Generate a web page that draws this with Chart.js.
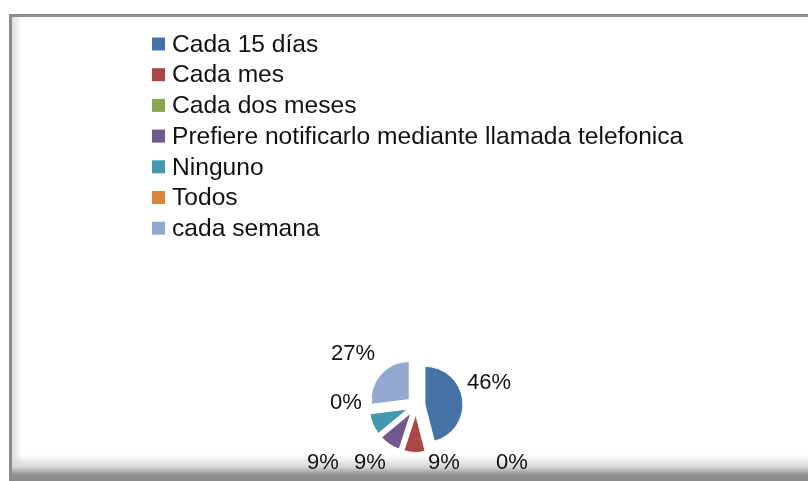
<!doctype html>
<html>
<head>
	<title>Pie Chart</title>
	<script src="https://cdn.jsdelivr.net/npm/chart.js@4.4.1/dist/chart.umd.min.js"></script>
	<style>
		html, body {
			margin: 0;
			padding: 0;
			background: #fff;
		}
		#frame {
			position: absolute;
			left: 9px;
			top: 14px;
			width: 799px;
			height: 467px;
			border-top: 3px solid #8c8c8c;
			border-left: 3px solid #8c8c8c;
			box-sizing: border-box;
			background:
				linear-gradient(to bottom, rgba(255,255,255,0) 0px, rgba(255,255,255,0) 438px, #d6d6d6 450px, #8e8e8e 458px, #8a8a8a 464px),
				linear-gradient(to right, #dcdcdc 0px, #ffffff 10px);
		}
		#container {
			position: absolute;
			left: 0;
			top: 0;
			width: 808px;
			height: 481px;
		}
	</style>
</head>

<body>
	<div id="frame"></div>
	<div id="container">
		<canvas id="canvas" width="808" height="481"></canvas>
	</div>
	<script>
		// data
		var labels = ['Cada 15 días', 'Cada mes', 'Cada dos meses', 'Prefiere notificarlo mediante llamada telefonica', 'Ninguno', 'Todos', 'cada semana'];
		var percents = [46, 9, 0, 9, 9, 0, 27];
		var colors = ['#4572A7', '#AA4643', '#89A54E', '#71588F', '#4198AF', '#DB843D', '#93A9CF'];

		// where each percentage label sits, relative to the pie centre (Excel "best fit")
		var labelNudge = [[73, -23], [28, 57], [96, 57], [-46, 57], [-93, 57], [-70, -3], [-63, -52]];
		var EXPLODE = 9;

		// Excel-style exploded slices: move each slice out without growing it
		// (the built-in "offset" also enlarges the radius of some slices)
		var baseArcDraw = Chart.ArcElement.prototype.draw;
		Chart.ArcElement.prototype.draw = function (ctx) {
			var half = (this.startAngle + this.endAngle) / 2;
			ctx.save();
			ctx.translate(Math.cos(half) * EXPLODE, Math.sin(half) * EXPLODE);
			baseArcDraw.call(this, ctx);
			ctx.restore();
		};

		var listLegend = {
			id: 'listLegend',
			afterDraw: function (chart) {
				var ctx = chart.ctx;
				ctx.save();
				ctx.font = '24.6px "Liberation Sans", Arial, sans-serif';
				ctx.textBaseline = 'middle';
				ctx.textAlign = 'left';
				for (var i = 0; i < labels.length; i++) {
					var y = 44 + i * 30.7;
					ctx.fillStyle = colors[i];
					ctx.fillRect(152, y - 6.5, 13, 13);
					ctx.fillStyle = '#111';
					ctx.fillText(labels[i], 172, y + 1);
				}
				ctx.restore();
			}
		};

		var pctLabels = {
			id: 'pctLabels',
			afterDatasetsDraw: function (chart) {
				var ctx = chart.ctx;
				var meta = chart.getDatasetMeta(0);
				ctx.save();
				ctx.font = '22px "Liberation Sans", Arial, sans-serif';
				ctx.textBaseline = 'middle';
				ctx.textAlign = 'center';
				ctx.fillStyle = '#111';
				meta.data.forEach(function (arc, i) {
					var p = arc.getProps(['x', 'y'], true);
					ctx.fillText(percents[i] + '%', p.x + labelNudge[i][0], p.y + labelNudge[i][1]);
				});
				ctx.restore();
			}
		};

		window.onload = function () {
			var ctx = document.getElementById('canvas').getContext('2d');
			window.myPie = new Chart(ctx, {
				type: 'pie',
				data: {
					labels: labels,
					datasets: [{
						data: percents,
						backgroundColor: colors,
						borderColor: '#fff',
						borderWidth: 1,
						offset: 0,
						hoverOffset: 0
					}]
				},
				options: {
					responsive: false,
					animation: false,
					radius: 38,
					layout: {
						padding: { left: 356, right: 332, top: 345, bottom: 15 }
					},
					plugins: {
						legend: { display: false },
						tooltip: { enabled: false }
					}
				},
				plugins: [listLegend, pctLabels]
			});
		};
	</script>
</body>
</html>
